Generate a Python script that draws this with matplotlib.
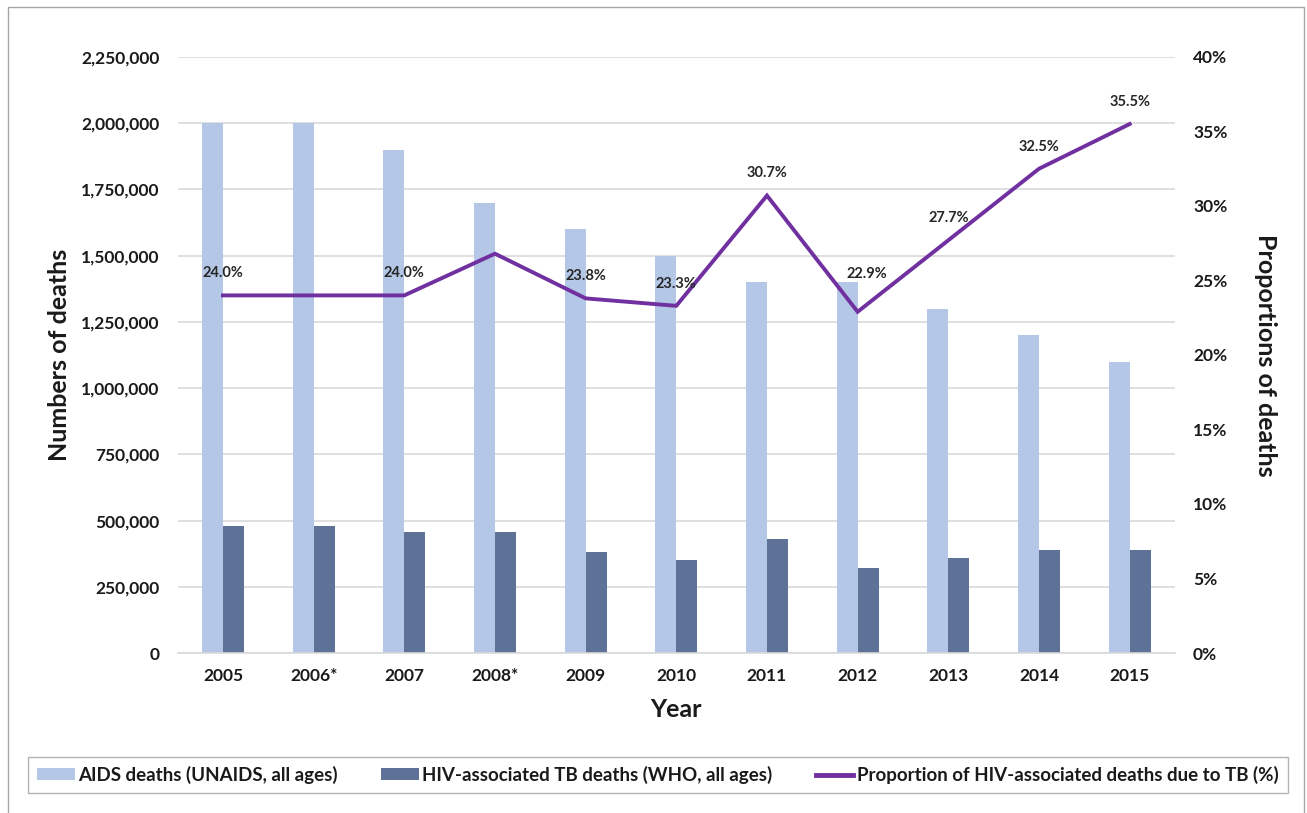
#---------------------------------------------------------------------------------------------------
# Imports
#---------------------------------------------------------------------------------------------------

import numpy as np
import matplotlib as mpl
mpl.use('Agg')
import matplotlib.pyplot as plt
from matplotlib.ticker import FuncFormatter
from matplotlib.lines import Line2D
from matplotlib.patches import Patch, Rectangle

#---------------------------------------------------------------------------------------------------
# Global Parameters
#---------------------------------------------------------------------------------------------------

mpl.rcParams['font.family'] = ['Lato', 'DejaVu Sans']
mpl.rcParams['font.weight'] = 'bold'

#---------------------------------------------------------------------------------------------------
# Data
#---------------------------------------------------------------------------------------------------

years = ['2005', '2006*', '2007', '2008*', '2009', '2010', '2011', '2012', '2013', '2014', '2015']
aids_deaths = [2000000, 2000000, 1900000, 1700000, 1600000, 1500000, 1400000, 1400000, 1300000, 1200000, 1100000]
tb_deaths = [480000, 480000, 456000, 456000, 380000, 350000, 430000, 320000, 360000, 390000, 390000]
tb_share = [24.0, 24.0, 24.0, 26.8, 23.8, 23.3, 30.7, 22.9, 27.7, 32.5, 35.5]
# which points carry a data label (the starred years do not)
show_label = [True, False, True, False, True, True, True, True, True, True, True]

left_ticks = np.arange(0, 2250001, 250000)
right_ticks = np.arange(0, 41, 5)

legend_labels = ['AIDS deaths (UNAIDS, all ages)',
                 'HIV-associated TB deaths (WHO, all ages)',
                 'Proportion of HIV-associated deaths due to TB (%)']

#---------------------------------------------------------------------------------------------------
# Styles
#---------------------------------------------------------------------------------------------------

light_blue = '#B4C7E7'
dark_blue = '#5E7196'
purple = '#7030A0'
grid_grey = '#D9D9D9'
text_col = '#1A1A1A'

# label offsets (points) above the line points
label_dx = [0, 0, 0, 0, 0, 0, 0, 7, 0, 0, 0]
label_dy = [16, 16, 16, 16, 16, 16, 16, 27, 16, 16, 16]

#---------------------------------------------------------------------------------------------------
# Plot
#---------------------------------------------------------------------------------------------------

def main():
    fig = plt.figure(figsize=(13.07, 8.13), dpi=100)
    ax = fig.add_axes([0.1359, 0.1968, 0.7631, 0.7331])

    x = np.arange(len(years))
    w = 0.232

    ax.bar(x - w / 2, aids_deaths, width=w, color=light_blue, zorder=2)
    ax.bar(x + w / 2, tb_deaths, width=w, color=dark_blue, zorder=2)

    ax.set_xlim(-0.5, len(years) - 0.5)
    ax.set_ylim(0, 2250000)
    ax.set_yticks(left_ticks)
    ax.yaxis.set_major_formatter(FuncFormatter(lambda v, p: '{:,}'.format(int(v))))
    ax.set_xticks(x)
    ax.set_xticklabels(years)
    ax.grid(axis='y', color=grid_grey, lw=1.2, zorder=0)
    ax.set_axisbelow(True)
    for s in ['top', 'left', 'right']:
        ax.spines[s].set_visible(False)
    ax.spines['bottom'].set_color(grid_grey)
    ax.spines['bottom'].set_linewidth(1.2)
    ax.tick_params(axis='both', length=0, labelsize=12.5, colors=text_col)
    ax.tick_params(axis='y', pad=13)
    ax.tick_params(axis='x', pad=11)

    ax.set_xlabel('Year', fontsize=18, fontweight='bold', color=text_col, labelpad=10)
    ax.set_ylabel('Numbers of deaths', fontsize=18, fontweight='bold', color=text_col, labelpad=7)

    # Right axis with the proportion line
    ax2 = ax.twinx()
    ax2.plot(x, tb_share, color=purple, lw=2.8, zorder=3, solid_joinstyle='miter')
    ax2.set_ylim(0, 40)
    ax2.set_yticks(right_ticks)
    ax2.set_yticklabels(['{}%'.format(t) for t in right_ticks])
    for s in ['top', 'left', 'right', 'bottom']:
        ax2.spines[s].set_visible(False)
    ax2.tick_params(axis='y', length=0, labelsize=12.5, colors=text_col, pad=13)
    ax2.set_ylabel('Proportions of deaths', fontsize=18, fontweight='bold', color=text_col,
                   rotation=270, labelpad=36)

    for i in range(len(years)):
        if not show_label[i]:
            continue
        ax2.annotate('{:.1f}%'.format(tb_share[i]), (x[i], tb_share[i]),
                     xytext=(label_dx[i], label_dy[i]), textcoords='offset points',
                     ha='center', va='center', fontsize=10.5, fontweight='bold', color='#262626')

    # Legend at the bottom
    handles = [Patch(facecolor=light_blue), Patch(facecolor=dark_blue),
               Line2D([0], [0], color=purple, lw=3.5)]
    leg = fig.legend(handles, legend_labels, loc='center', ncol=3, mode='expand',
                     bbox_to_anchor=(0.0214, 0.0185, 0.964, 0.0566), bbox_transform=fig.transFigure,
                     fontsize=13.5, frameon=True, fancybox=False, handlelength=2.0,
                     handleheight=0.6, handletextpad=0.2, borderaxespad=0, borderpad=0.5)
    leg.get_frame().set_edgecolor('#A0A0A0')
    leg.get_frame().set_linewidth(1.0)
    for t in leg.get_texts():
        t.set_color(text_col)

    # Outer chart border
    fig.patches.append(Rectangle((8 / 1307, -0.02), 1296 / 1307, 1 - 7 / 813 + 0.02,
                                 transform=fig.transFigure, fill=False,
                                 edgecolor='#A6A6A6', lw=1.0))

    fig.savefig('out.png', dpi=100)
    plt.close(fig)


if __name__ == '__main__':
    main()
